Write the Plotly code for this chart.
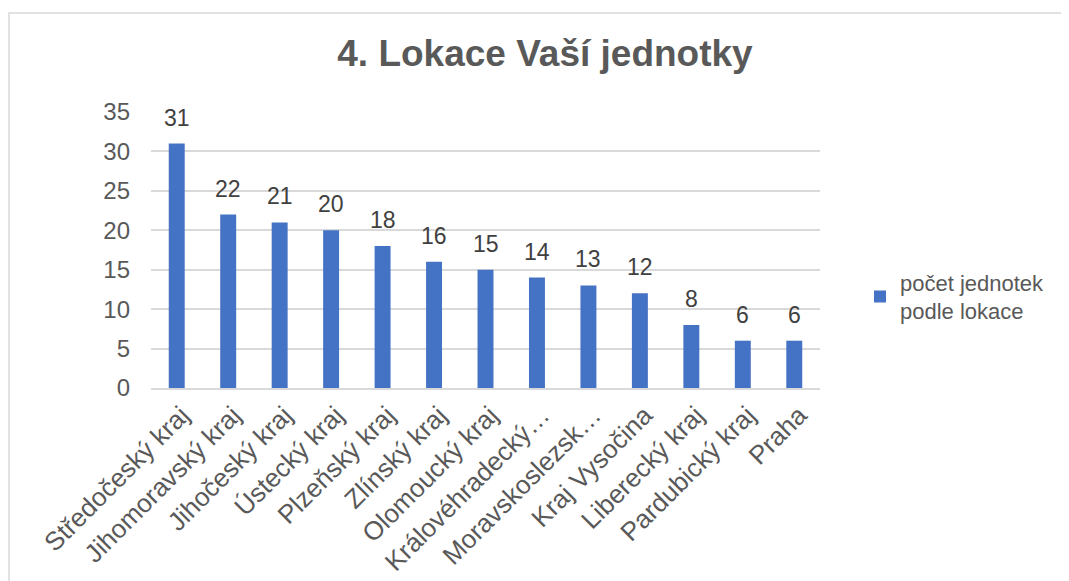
import plotly.graph_objects as go

categories = ["Středočeský kraj", "Jihomoravský kraj", "Jihočeský kraj", "Ústecký kraj",
              "Plzeňský kraj", "Zlínský kraj", "Olomoucký kraj", "Královéhradecký…",
              "Moravskoslezsk…", "Kraj Vysočina", "Liberecký kraj", "Pardubický kraj", "Praha"]
values = [31, 22, 21, 20, 18, 16, 15, 14, 13, 12, 8, 6, 6]
series_name = "počet jednotek<br>podle lokace"
y_ticks = [0, 5, 10, 15, 20, 25, 30, 35]

OFF = 8  # page body margin
W, H = 1069 - OFF, 581 - OFF
L, R, T, B = 151 - OFF, 820 - OFF, 112 - OFF, 388 - OFF
FONT = "Liberation Sans, Arial, sans-serif"

fig = go.Figure()
fig.add_trace(go.Bar(
    x=categories, y=values, name=series_name,
    marker=dict(color="#4472C4", line=dict(width=0)),
    showlegend=True,
))

for c, v in zip(categories, values):
    fig.add_annotation(x=c, y=v, xref="x", yref="y", text=str(v), showarrow=False,
                       yanchor="bottom", yshift=11,
                       font=dict(size=23, color="#404040", family=FONT))

def px_x(p):
    return (p - OFF - L) / (R - L)

def px_y(p):
    return (B - (p - OFF)) / (B - T)

fig.update_layout(
    width=W, height=H,
    margin=dict(l=L, r=W - R, t=T, b=H - B, autoexpand=False),
    paper_bgcolor="white", plot_bgcolor="white",
    font=dict(family=FONT, color="#595959"),
    title=dict(text="<b>4. Lokace Vaší jednotky</b>", x=(545 - OFF) / W, xanchor="center",
               y=1 - (53 - OFF) / H, yanchor="middle", yref="container",
               font=dict(size=37, color="#595959", family=FONT)),
    bargap=0.69,
    showlegend=True,
    legend=dict(x=px_x(860), xanchor="left", y=px_y(297), yanchor="middle",
                font=dict(size=22, color="#595959"), itemsizing="constant",
                bgcolor="rgba(0,0,0,0)"),
    xaxis=dict(tickangle=-45, tickfont=dict(size=26, color="#595959"), automargin=False,
               ticklabelshift=5, ticklabelstandoff=0,
               showline=True, linecolor="#d9d9d9", linewidth=1.5, ticks="", showgrid=False),
    yaxis=dict(range=[0, 35], tickvals=y_ticks, tickfont=dict(size=24, color="#595959"),
               automargin=False,
               showgrid=True, gridcolor="#d9d9d9", gridwidth=1.5, zeroline=False,
               showline=False, ticks="", ticklabelstandoff=20),
    shapes=[dict(type="rect", xref="paper", yref="paper",
                 x0=px_x(9), x1=px_x(1075), y0=px_y(590), y1=px_y(13),
                 line=dict(color="#d9d9d9", width=1.5), layer="below")],
)

fig.write_html("out.html")
